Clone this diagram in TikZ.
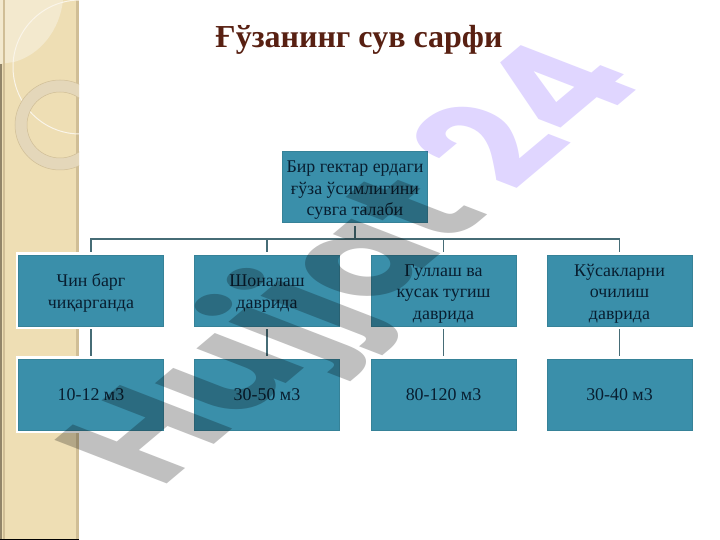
\documentclass[tikz,border=0pt]{standalone}
\usepackage{fontspec}
\setmainfont{Liberation Serif}
\newfontfamily\markfont{Poppins}
\usetikzlibrary{positioning}
\definecolor{bandtan}{RGB}{238,222,180}
\definecolor{bandlight}{RGB}{243,233,206}
\definecolor{bandedge}{RGB}{208,190,150}
\definecolor{ringtan}{RGB}{228,215,186}
\definecolor{boxteal}{RGB}{58,143,170}
\definecolor{boxedge}{RGB}{54,130,152}
\definecolor{linkteal}{RGB}{70,108,118}
\definecolor{inkblue}{RGB}{8,30,48}
\definecolor{titlebrown}{RGB}{88,32,18}
\definecolor{markgray}{RGB}{192,192,192}
\definecolor{marklav}{RGB}{224,214,255}
\newcommand{\boxw}{145pt}
\newcommand{\boxh}{71pt}
\newcommand{\lowline}{\rule{0pt}{18pt}}
\tikzset{
    phasebox/.style={rectangle, minimum width=\boxw, minimum height=\boxh, inner sep=0pt,
        fill=boxteal, draw=boxedge, line width=0.7pt, preaction={draw=white, line width=6pt},
        align=center, text=inkblue, font=\fontsize{17.9}{21.5}\selectfont},
    link/.style={draw=linkteal, line width=1.7pt}
}
\begin{document}
\begin{tikzpicture}[x=1pt, y=-1pt]
    \useasboundingbox (0,0) rectangle (720,540);
    \fill[white] (0,0) rectangle (720,540);

    % left band
    \begin{scope}
        \clip (0,0) rectangle (79,540);
        \fill[bandtan] (0,0) rectangle (79,540);
        \fill[bandlight] (0,0) -- (63,0) .. controls (60,30) and (40,55) .. (14,62) -- (0,64) -- cycle;
        \fill[bandedge] (76,0) rectangle (79,540);
        \fill[bandedge!70!black] (0,64) rectangle (1.5,540);
        \fill[bandedge] (3,0) rectangle (4.5,540);
        \fill[black] (0,539) rectangle (79,540);
        \draw[white!70!bandtan, line width=1pt] (80,67) circle (67);
        \fill[ringtan, even odd rule] (60,125) circle (45) (60,125) circle (33);
        \draw[bandedge, line width=0.5pt] (60,125) circle (45);
        \draw[bandedge, line width=0.5pt] (60,125) circle (33);
    \end{scope}

    \node (title) at (359,40) {\fontsize{32}{34}\selectfont\bfseries\color{titlebrown}Ғўзанинг сув сарфи};

    \coordinate (bus) at (355,239);

    \node[phasebox] (root) at (355,187) {\lowline Бир гектар ердаги\\ғўза ўсимлигини\\сувга талаби};

    \node[phasebox] (chin) at (91,290.5) {\lowline Чин барг\\чиқарганда};
    \node[phasebox] (shona) at (267,290.5) {\lowline Шоналаш\\даврида};
    \node[phasebox] (gul) at (443.5,290.5) {\lowline Гуллаш ва\\кусак тугиш\\даврида};
    \node[phasebox] (kusak) at (619.5,290.5) {\lowline Кўсакларни\\очилиш\\даврида};

    \node[phasebox] (chinv) at (91,394.5) {10-12 м3};
    \node[phasebox] (shonav) at (267,394.5) {30-50 м3};
    \node[phasebox] (gulv) at (443.5,394.5) {80-120 м3};
    \node[phasebox] (kusakv) at (619.5,394.5) {30-40 м3};

    \draw[link, shorten <=3pt] (root.south) -- (bus);
    \foreach \n in {chin,shona,gul,kusak} {
        \draw[link, shorten >=3pt] (bus) -| (\n.north);
        \draw[link, shorten >=3pt, shorten <=3pt] (\n.south) -- (\n v.north);
    }

    % watermark
    \begin{scope}[blend mode=multiply, shift={(160,490)}, cm={1.077,0.904,-1.6,0.62,(0,0)}]
        \node[anchor=base west, inner sep=0pt, transform shape] (mark) at (0,0)
            {\fontsize{100}{100}\selectfont\markfont\bfseries\color{markgray}Hujjat \color{marklav}24};
    \end{scope}
\end{tikzpicture}
\end{document}
